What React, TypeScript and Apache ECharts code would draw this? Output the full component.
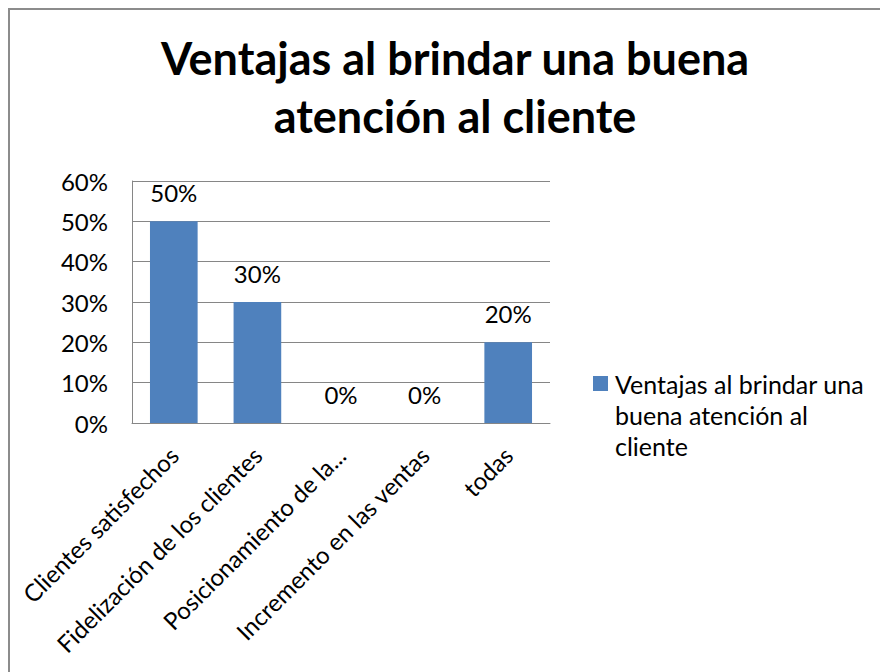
import React, { useEffect, useRef } from "react";
import * as echarts from "echarts";

const titleLines = ["Ventajas al brindar una buena", "atención al cliente"];
const categories = [
  "Clientes satisfechos",
  "Fidelización de los clientes",
  "Posicionamiento de la...",
  "Incremento en las ventas",
  "todas",
];
const seriesName = "Ventajas al brindar una buena atención al cliente";
const legendLines = ["Ventajas al brindar una", "buena atención al", "cliente"];
const values = [0.5, 0.3, 0, 0, 0.2];
const yTicks = { min: 0, max: 0.6, interval: 0.1 };

const FONT = "Lato";
const BAR = "#4F81BD";
const GRID = "#868686";

export default function App() {
  const ref = useRef<HTMLDivElement>(null);
  useEffect(() => {
    if (!ref.current) return;
    const chart = echarts.init(ref.current, null, { renderer: "svg" });
    chart.setOption({
      animation: false,
      backgroundColor: "#ffffff",
      textStyle: { fontFamily: FONT },
      title: {
        text: titleLines.join("\n"),
        left: 450,
        top: 24,
        textAlign: "center",
        textStyle: {
          fontFamily: FONT,
          fontWeight: "bold",
          fontSize: 45,
          lineHeight: 58,
          color: "#000",
        },
      },
      graphic: [
        {
          type: "rect",
          shape: { x: 9, y: 9, width: 900, height: 700 },
          style: { fill: "none", stroke: "#8c8c8c", lineWidth: 2 },
          silent: true,
        },
      ],
      legend: {
        left: 593,
        top: 368.5,
        padding: 0,
        orient: "vertical",
        itemWidth: 15,
        itemHeight: 93,
        itemGap: 0,
        icon: "path://M0,7.5H15V22.5H0Z M0,0H0.01V0.01H0Z M0,92.99H0.01V93H0Z",
        formatter: () => legendLines.join("\n"),
        textStyle: {
          fontFamily: FONT,
          fontSize: 25,
          lineHeight: 31,
          color: "#000",
          padding: [0, 0, 0, 2],
        },
        data: [seriesName],
      },
      grid: { left: 132, right: 330, top: 181, bottom: 249, containLabel: false },
      xAxis: {
        type: "category",
        data: categories,
        axisLine: { show: true, lineStyle: { color: GRID, width: 1 } },
        axisTick: { show: false },
        axisLabel: {
          rotate: 45,
          interval: 0,
          margin: 28,
          fontFamily: FONT,
          fontSize: 24,
          color: "#000",
        },
      },
      yAxis: {
        type: "value",
        min: yTicks.min,
        max: yTicks.max,
        interval: yTicks.interval,
        axisLine: { show: true, lineStyle: { color: GRID, width: 1 } },
        axisTick: { show: false },
        splitLine: { show: true, lineStyle: { color: GRID, width: 1 } },
        axisLabel: {
          margin: 24,
          fontFamily: FONT,
          fontSize: 24,
          color: "#000",
          formatter: (v: number) => `${Math.round(v * 100)}%`,
        },
      },
      series: [
        {
          name: seriesName,
          type: "bar",
          data: values,
          barWidth: "57%",
          itemStyle: { color: BAR },
          label: {
            show: true,
            position: "top",
            distance: 17,
            fontFamily: FONT,
            fontSize: 24,
            color: "#000",
            formatter: (p: any) => `${Math.round(p.value * 100)}%`,
          },
        },
      ],
    });
    return () => chart.dispose();
  }, []);
  return (
    <div
      ref={ref}
      style={{ position: "absolute", left: 0, top: 0, width: 880, height: 672 }}
    />
  );
}
